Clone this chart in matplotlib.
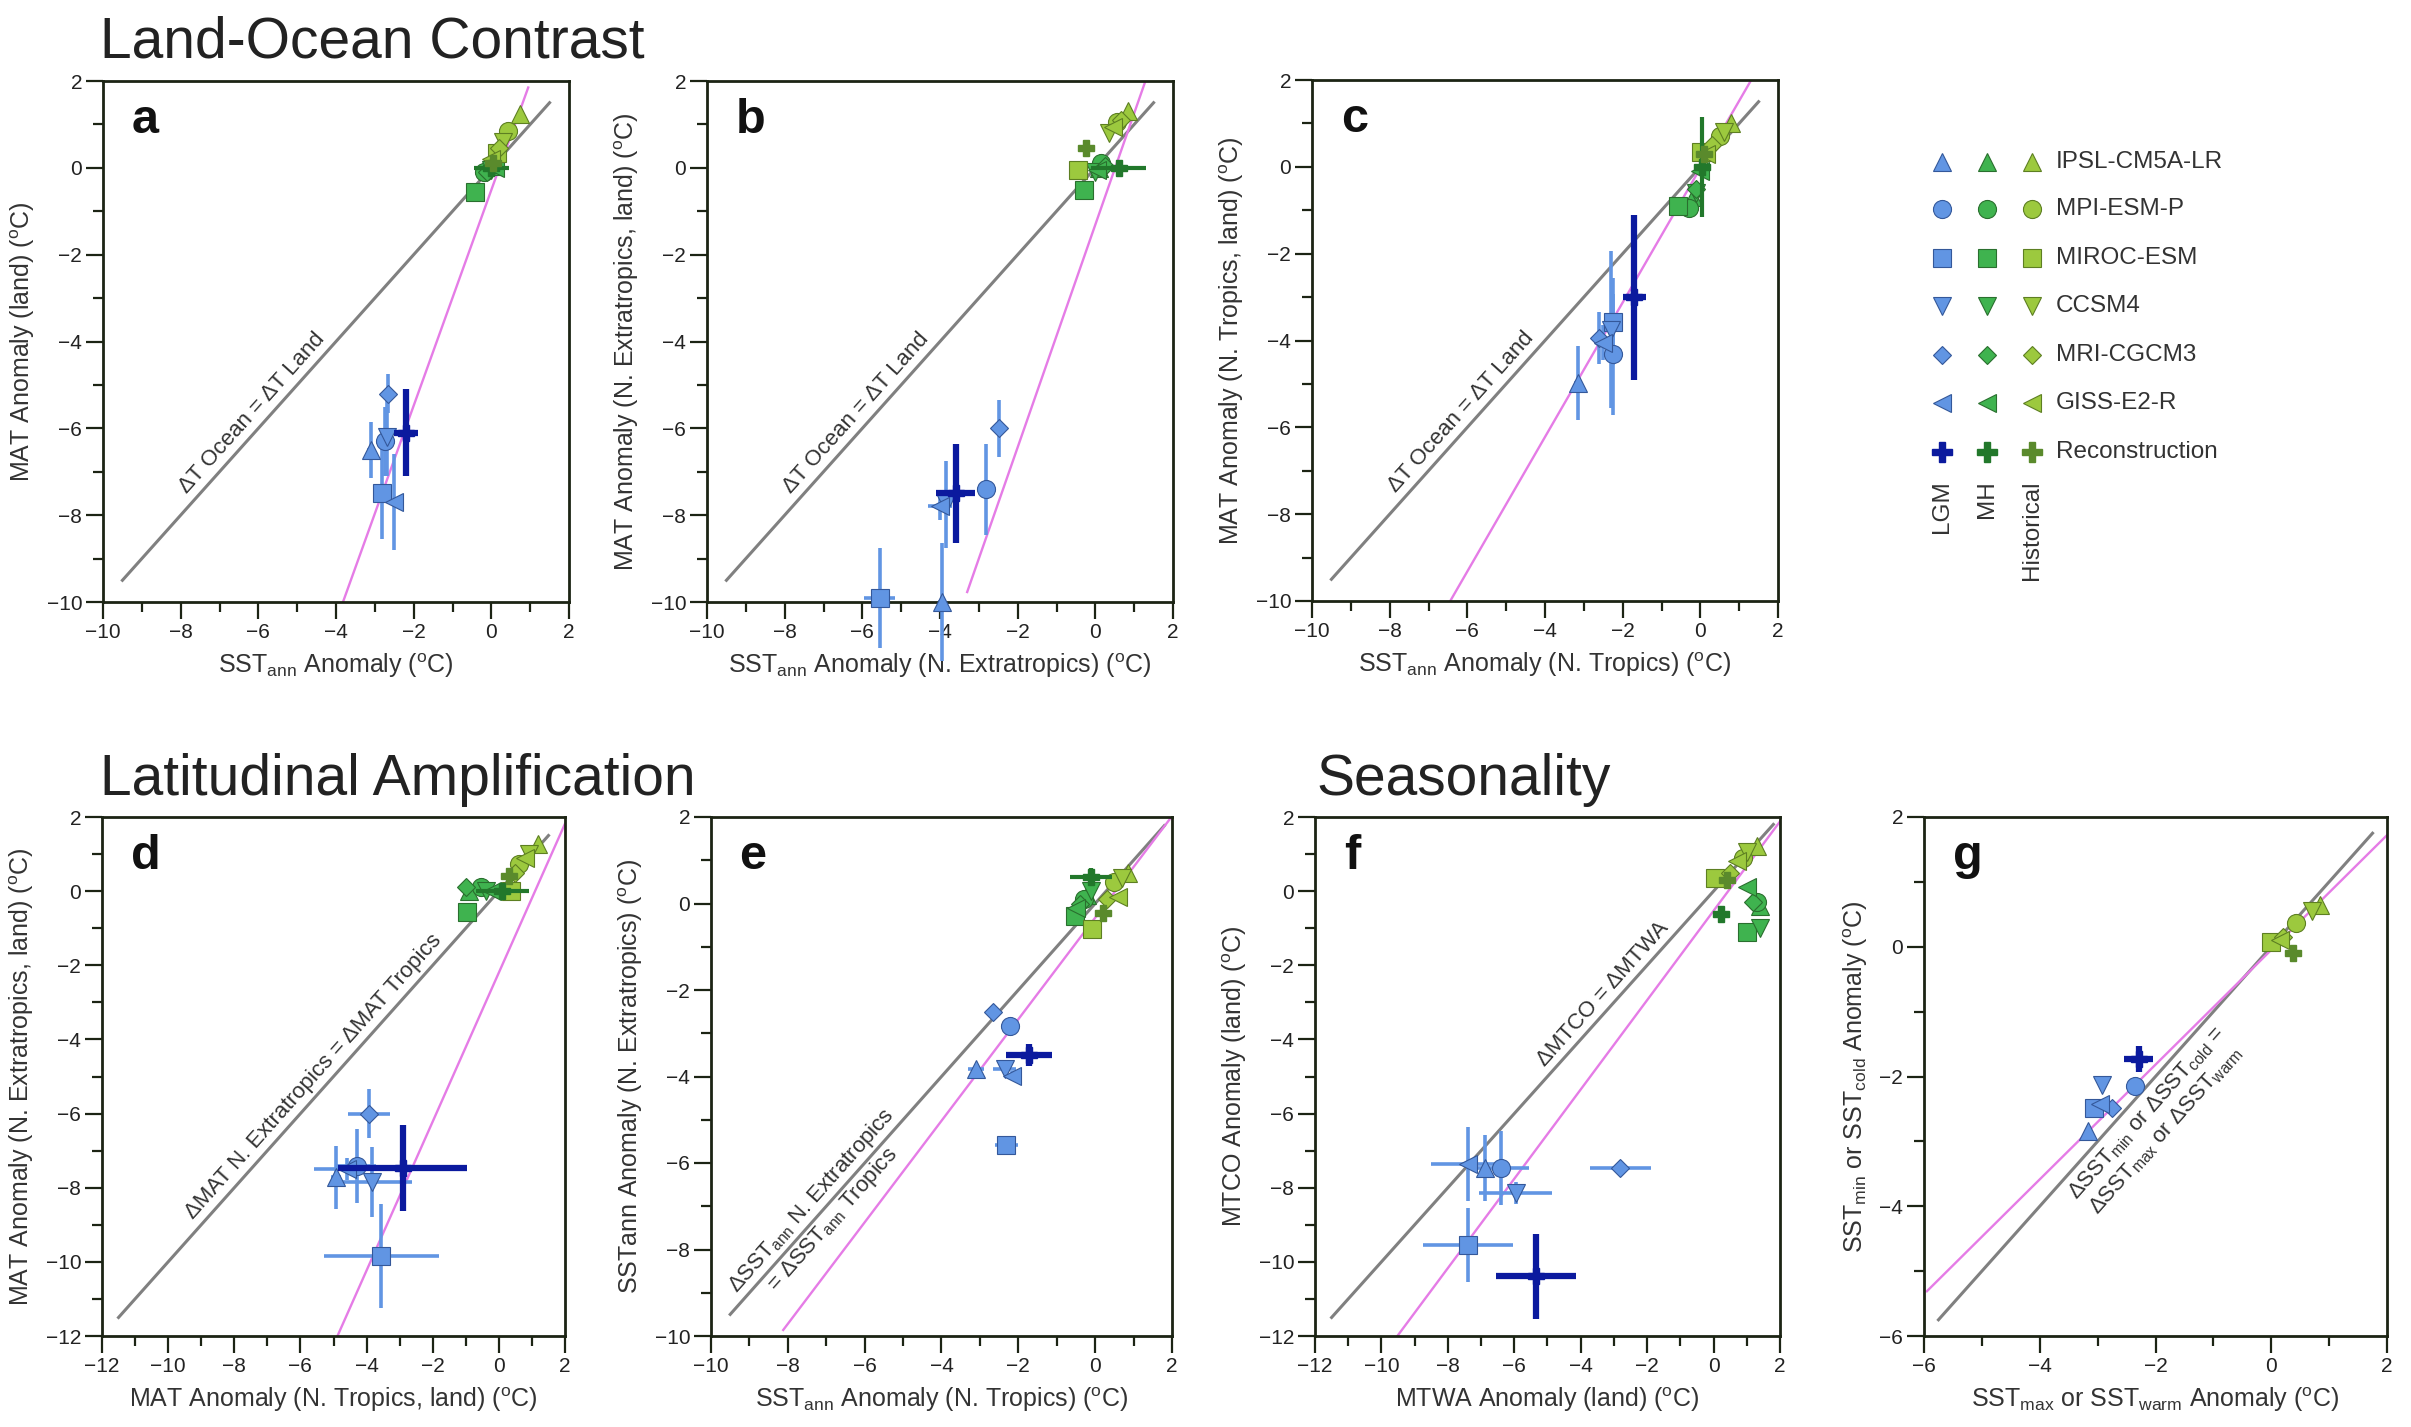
import numpy as np
import matplotlib.pyplot as plt
from matplotlib.ticker import MultipleLocator

plt.rcParams['font.family'] = ['Liberation Sans', 'DejaVu Sans']
plt.rcParams['mathtext.fontset'] = 'custom'
plt.rcParams['mathtext.rm'] = 'Liberation Sans'
plt.rcParams['mathtext.it'] = 'Liberation Sans:italic'
plt.rcParams['mathtext.bf'] = 'Liberation Sans:bold'

W, H = 2411, 1427

models = ["IPSL-CM5A-LR", "MPI-ESM-P", "MIROC-ESM", "CCSM4", "MRI-CGCM3", "GISS-E2-R"]
periods = ["LGM", "MH", "Historical"]

# each row: (x, y, xerr, yerr), rows in model order
a_lgm = [(-3.1, -6.5, 0.1, 0.65), (-2.75, -6.3, 0.1, 0.8), (-2.82, -7.5, 0.1, 1.05),
         (-2.68, -6.2, 0.1, 0.9), (-2.65, -5.2, 0.1, 0.45), (-2.5, -7.7, 0.1, 1.1)]
a_mh = [(0.05, 0.05, 0, 0), (-0.2, -0.1, 0, 0), (-0.42, -0.55, 0, 0),
        (0.0, -0.05, 0, 0), (-0.1, -0.1, 0, 0), (0.1, 0.0, 0, 0)]
a_hist = [(0.75, 1.25, 0, 0), (0.42, 0.85, 0, 0), (0.15, 0.35, 0, 0),
          (0.3, 0.6, 0, 0), (0.2, 0.45, 0, 0), (0.0, 0.2, 0, 0)]
a_rec = [(-2.2, -6.1, 0.3, 1.0), (0.0, 0.0, 0.45, 0.1), (0.05, 0.1, 0.1, 0.1)]

b_lgm = [(-3.95, -10.0, 0.1, 1.35), (-2.82, -7.4, 0.1, 1.05), (-5.55, -9.9, 0.4, 1.15),
         (-3.85, -7.75, 0.1, 1.0), (-2.48, -6.0, 0.1, 0.65), (-4.0, -7.8, 0.3, 0.3)]
b_mh = [(0.1, 0.0, 0, 0), (0.15, 0.12, 0, 0), (-0.3, -0.52, 0, 0),
        (0.0, -0.1, 0, 0), (0.25, 0.05, 0, 0), (0.05, -0.05, 0, 0)]
b_hist = [(0.85, 1.3, 0, 0), (0.55, 1.05, 0, 0), (-0.45, -0.05, 0, 0),
          (0.35, 0.8, 0, 0), (0.65, 1.1, 0, 0), (0.45, 0.95, 0, 0)]
b_rec = [(-3.6, -7.5, 0.5, 1.15), (0.6, 0.0, 0.7, 0.1), (-0.25, 0.45, 0.1, 0.1)]

c_lgm = [(-3.15, -4.98, 0.1, 0.85), (-2.25, -4.32, 0.1, 1.4), (-2.25, -3.57, 0.15, 1.0),
         (-2.3, -3.75, 0.1, 1.8), (-2.6, -3.95, 0.1, 0.6), (-2.5, -4.05, 0.1, 0.4)]
c_mh = [(-0.2, -0.7, 0, 0), (-0.3, -0.95, 0, 0), (-0.58, -0.9, 0, 0),
        (-0.1, -0.6, 0, 0), (-0.1, -0.5, 0, 0), (0.0, -0.1, 0, 0)]
c_hist = [(0.8, 1.02, 0, 0), (0.5, 0.7, 0, 0), (0.02, 0.35, 0, 0),
          (0.6, 0.8, 0, 0), (0.3, 0.5, 0, 0), (0.15, 0.3, 0, 0)]
c_rec = [(-1.7, -3.0, 0.3, 1.9), (0.05, 0.0, 0.1, 1.15), (0.1, 0.3, 0.1, 0.1)]

d_lgm = [(-4.93, -7.72, 0.15, 0.85), (-4.3, -7.41, 0.6, 1.0), (-3.55, -9.84, 1.75, 1.4),
         (-3.84, -7.84, 1.2, 0.95), (-3.92, -6.0, 0.63, 0.65), (-4.6, -7.5, 1.0, 0.3)]
d_mh = [(-0.9, 0.0, 0, 0), (-0.55, 0.12, 0, 0), (-0.95, -0.55, 0, 0),
        (-0.4, 0.0, 0, 0), (-1.0, 0.1, 0, 0), (-0.2, 0.0, 0, 0)]
d_hist = [(1.19, 1.28, 0, 0), (0.61, 0.73, 0, 0), (0.38, 0.0, 0, 0),
          (0.9, 1.0, 0, 0), (0.5, 0.5, 0, 0), (0.8, 0.9, 0, 0)]
d_rec = [(-2.91, -7.47, 1.95, 1.15), (0.1, 0.0, 0.8, 0.1), (0.3, 0.4, 0.1, 0.1)]

e_lgm = [(-3.1, -3.82, 0.2, 0.1), (-2.21, -2.83, 0.1, 0.1), (-2.31, -5.59, 0.3, 0.1),
         (-2.36, -3.82, 0.3, 0.1), (-2.66, -2.5, 0.1, 0.1), (-2.16, -3.98, 0.1, 0.1)]
e_mh = [(-0.2, 0.2, 0, 0), (-0.3, 0.1, 0, 0), (-0.53, -0.28, 0, 0),
        (-0.1, 0.3, 0, 0), (-0.4, 0.0, 0, 0), (-0.5, -0.1, 0, 0)]
e_hist = [(0.86, 0.71, 0, 0), (0.5, 0.5, 0, 0), (-0.08, -0.59, 0, 0),
          (0.7, 0.6, 0, 0), (0.3, 0.1, 0, 0), (0.6, 0.15, 0, 0)]
e_rec = [(-1.72, -3.51, 0.6, 0.25), (-0.1, 0.62, 0.55, 0.2), (0.2, -0.23, 0.15, 0.15)]

f_lgm = [(-6.87, -7.47, 0.1, 0.9), (-6.41, -7.47, 0.85, 1.0), (-7.39, -9.54, 1.35, 1.0),
         (-5.95, -8.14, 1.1, 0.3), (-2.81, -7.47, 0.92, 0.1), (-7.4, -7.35, 1.1, 1.0)]
f_mh = [(1.4, -0.4, 0, 0), (1.3, -0.3, 0, 0), (1.02, -1.09, 0, 0),
        (1.4, -1.0, 0, 0), (1.2, -0.3, 0, 0), (1.0, 0.1, 0, 0)]
f_hist = [(1.31, 1.22, 0, 0), (0.9, 0.9, 0, 0), (0.04, 0.36, 0, 0),
          (1.0, 1.05, 0, 0), (0.5, 0.5, 0, 0), (0.7, 0.8, 0, 0)]
f_rec = [(-5.34, -10.39, 1.2, 1.15), (0.21, -0.63, 0.15, 0.15), (0.4, 0.3, 0.1, 0.1)]

g_lgm = [(-3.16, -2.84, 0, 0), (-2.36, -2.14, 0, 0), (-3.06, -2.49, 0, 0),
         (-2.93, -2.13, 0, 0), (-2.76, -2.49, 0, 0), (-2.96, -2.42, 0, 0)]
g_mh = []
g_hist = [(0.84, 0.64, 0, 0), (0.43, 0.36, 0, 0), (0.0, 0.08, 0, 0),
          (0.7, 0.55, 0, 0), (0.2, 0.15, 0, 0), (0.15, 0.1, 0, 0)]
g_rec = [(-2.29, -1.73, 0.25, 0.2), None, (0.37, -0.09, 0.1, 0.1)]

# 1:1 line extent and fitted (pink) line end points (x0, y0, x1, y1)
a_one, a_fit = (-9.5, 1.5), (-3.82, -10.0, 0.95, 1.85)
b_one, b_fit = (-9.5, 1.5), (-3.3, -9.77, 1.29, 2.0)
c_one, c_fit = (-9.5, 1.5), (-6.44, -10.0, 1.31, 2.0)
d_one, d_fit = (-11.5, 1.5), (-4.88, -12.0, 2.0, 1.82)
e_one, e_fit = (-9.5, 1.8), (-8.12, -9.86, 1.95, 1.96)
f_one, f_fit = (-11.5, 1.8), (-9.52, -12.0, 2.0, 1.88)
g_one, g_fit = (-5.75, 1.75), (-5.95, -5.31, 2.0, 1.72)

markers = ['^', 'o', 's', 'v', 'D', '<']
msizes = [13, 13, 12.5, 13, 9, 13]
faces = ['#6195e3', '#3fb34f', '#9cc93e']
edges = ['#34589a', '#2a6f2e', '#5d7f22']
rec_colors = ['#0b1a9e', '#22782b', '#5a8a2c']
DEG = r"($^{\mathrm{o}}$C)"
SPINE = '#1c2414'


def unclip(container):
    for artist in container.get_children():
        artist.set_clip_on(False)


def draw_period(ax, pts, k):
    for (x, y, xe, ye), m, ms in zip(pts, markers, msizes):
        eb = ax.errorbar(x, y, xerr=xe if xe else None, yerr=ye if ye else None,
                         fmt=m, ms=ms, mfc=faces[k], mec=edges[k], mew=0.8,
                         ecolor=faces[k], elinewidth=2.6, capsize=0, zorder=3 + k * 0.1)
        unclip(eb)


def draw_panel(box, lim, lgm, mh, hist, rec, one, fit, letter, xlabel, ylabel):
    l, t, r, b = box
    ax = fig.add_axes([l / W, 1 - b / H, (r - l) / W, (b - t) / H])
    ax.plot(one, one, color='#808080', lw=2.2, zorder=2)
    ax.plot([fit[0], fit[2]], [fit[1], fit[3]], color='#e57ce6', lw=1.7, zorder=2)
    draw_period(ax, lgm, 0)
    draw_period(ax, mh, 1)
    draw_period(ax, hist, 2)
    for k, p in enumerate(rec):
        if p is None:
            continue
        x, y, xe, ye = p
        lw = 4.5 if k == 0 else 3.0
        eb = ax.errorbar(x, y, xerr=xe, yerr=ye, fmt='P', ms=12, mfc=rec_colors[k],
                         mec=rec_colors[k], ecolor=rec_colors[k], elinewidth=lw,
                         capsize=0, zorder=5)
        unclip(eb)
    ax.set_xlim(lim, 2)
    ax.set_ylim(lim, 2)
    ax.xaxis.set_major_locator(MultipleLocator(2))
    ax.yaxis.set_major_locator(MultipleLocator(2))
    ax.xaxis.set_minor_locator(MultipleLocator(1))
    ax.yaxis.set_minor_locator(MultipleLocator(1))
    ax.tick_params(which='major', direction='out', length=12, width=1.6, color=SPINE,
                   labelsize=15, labelcolor='#222222', pad=3)
    ax.tick_params(which='minor', direction='out', length=7.5, width=1.6, color=SPINE)
    for s in ax.spines.values():
        s.set_linewidth(2.0)
        s.set_color(SPINE)
    ax.set_xlabel(xlabel, fontsize=18, color='#333333', labelpad=7)
    ax.set_ylabel(ylabel, fontsize=18, color='#333333', labelpad=7)
    ax.text(0.062, 0.9, letter, transform=ax.transAxes, fontsize=35,
            fontweight='bold', color='#111111')
    return ax


def line_note(ax, x, y, text, va):
    ax.text(x, y, text, rotation=45, transform_rotates_text=True,
            rotation_mode='anchor', ha='center', va=va, fontsize=16,
            color='#333333', multialignment='center', zorder=4)


fig = plt.figure(figsize=(W / 100, H / 100), dpi=100)

ax = draw_panel((103, 81, 569, 602), -10, a_lgm, a_mh, a_hist, a_rec, a_one, a_fit, 'a',
                r"SST$_{\mathrm{ann}}$ Anomaly " + DEG, "MAT Anomaly (land) " + DEG)
line_note(ax, -5.95, -5.8, "ΔT Ocean = ΔT Land", 'bottom')

ax = draw_panel((707, 81, 1173, 602), -10, b_lgm, b_mh, b_hist, b_rec, b_one, b_fit, 'b',
                r"SST$_{\mathrm{ann}}$ Anomaly (N. Extratropics) " + DEG,
                "MAT Anomaly (N. Extratropics, land) " + DEG)
line_note(ax, -5.95, -5.8, "ΔT Ocean = ΔT Land", 'bottom')

ax = draw_panel((1312, 80, 1778, 601), -10, c_lgm, c_mh, c_hist, c_rec, c_one, c_fit, 'c',
                r"SST$_{\mathrm{ann}}$ Anomaly (N. Tropics) " + DEG,
                "MAT Anomaly (N. Tropics, land) " + DEG)
line_note(ax, -5.95, -5.8, "ΔT Ocean = ΔT Land", 'bottom')

ax = draw_panel((102, 817, 565, 1336), -12, d_lgm, d_mh, d_hist, d_rec, d_one, d_fit, 'd',
                "MAT Anomaly (N. Tropics, land) " + DEG,
                "MAT Anomaly (N. Extratropics, land) " + DEG)
line_note(ax, -5.35, -5.2, "ΔMAT N. Extratropics = ΔMAT Tropics", 'bottom')

ax = draw_panel((711, 817, 1172, 1336), -10, e_lgm, e_mh, e_hist, e_rec, e_one, e_fit, 'e',
                r"SST$_{\mathrm{ann}}$ Anomaly (N. Tropics) " + DEG,
                "SSTann Anomaly (N. Extratropics) " + DEG)
line_note(ax, -7.1, -7.1,
          "ΔSST$_{\\mathrm{ann}}$ N. Extratropics\n= ΔSST$_{\\mathrm{ann}}$ Tropics", 'center')

ax = draw_panel((1315, 817, 1780, 1336), -12, f_lgm, f_mh, f_hist, f_rec, f_one, f_fit, 'f',
                "MTWA Anomaly (land) " + DEG, "MTCO Anomaly (land) " + DEG)
line_note(ax, -3.1, -2.95, "ΔMTCO = ΔMTWA", 'bottom')

ax = draw_panel((1924, 817, 2387, 1336), -6, g_lgm, g_mh, g_hist, g_rec, g_one, g_fit, 'g',
                r"SST$_{\mathrm{max}}$ or SST$_{\mathrm{warm}}$ Anomaly " + DEG,
                r"SST$_{\mathrm{min}}$ or SST$_{\mathrm{cold}}$ Anomaly " + DEG)
line_note(ax, -2.3, -2.45,
          "ΔSST$_{\\mathrm{min}}$ or ΔSST$_{\\mathrm{cold}}$ =\nΔSST$_{\\mathrm{max}}$ or ΔSST$_{\\mathrm{warm}}$",
          'top')

# section headings
fig.text(100 / W, 1 - 58 / H, "Land-Ocean Contrast", fontsize=41, color='#222222', va='baseline')
fig.text(100 / W, 1 - 795 / H, "Latitudinal Amplification", fontsize=41, color='#222222', va='baseline')
fig.text(1316 / W, 1 - 795 / H, "Seasonality", fontsize=41, color='#222222', va='baseline')

# key: one column per period, one row per model
lax = fig.add_axes([0, 0, 1, 1])
lax.set_xlim(0, W)
lax.set_ylim(H, 0)
lax.axis('off')
row_y = [162, 209, 258, 306, 355, 403, 452]
col_x = [1942, 1987, 2032]
for i, name in enumerate(models + ["Reconstruction"]):
    for k in range(3):
        if i < 6:
            lax.plot(col_x[k], row_y[i], markers[i], ms=msizes[i], mfc=faces[k],
                     mec=edges[k], mew=0.8)
        else:
            lax.plot(col_x[k], row_y[i], 'P', ms=14, mfc=rec_colors[k], mec=rec_colors[k])
    lax.text(2056, row_y[i], name, fontsize=17.5, color='#333333', va='center', ha='left')
for k, name in enumerate(periods):
    lax.text(col_x[k], 480, name, fontsize=17.5, color='#333333', rotation=90,
             ha='center', va='top')

fig.savefig("out.png", dpi=100)
